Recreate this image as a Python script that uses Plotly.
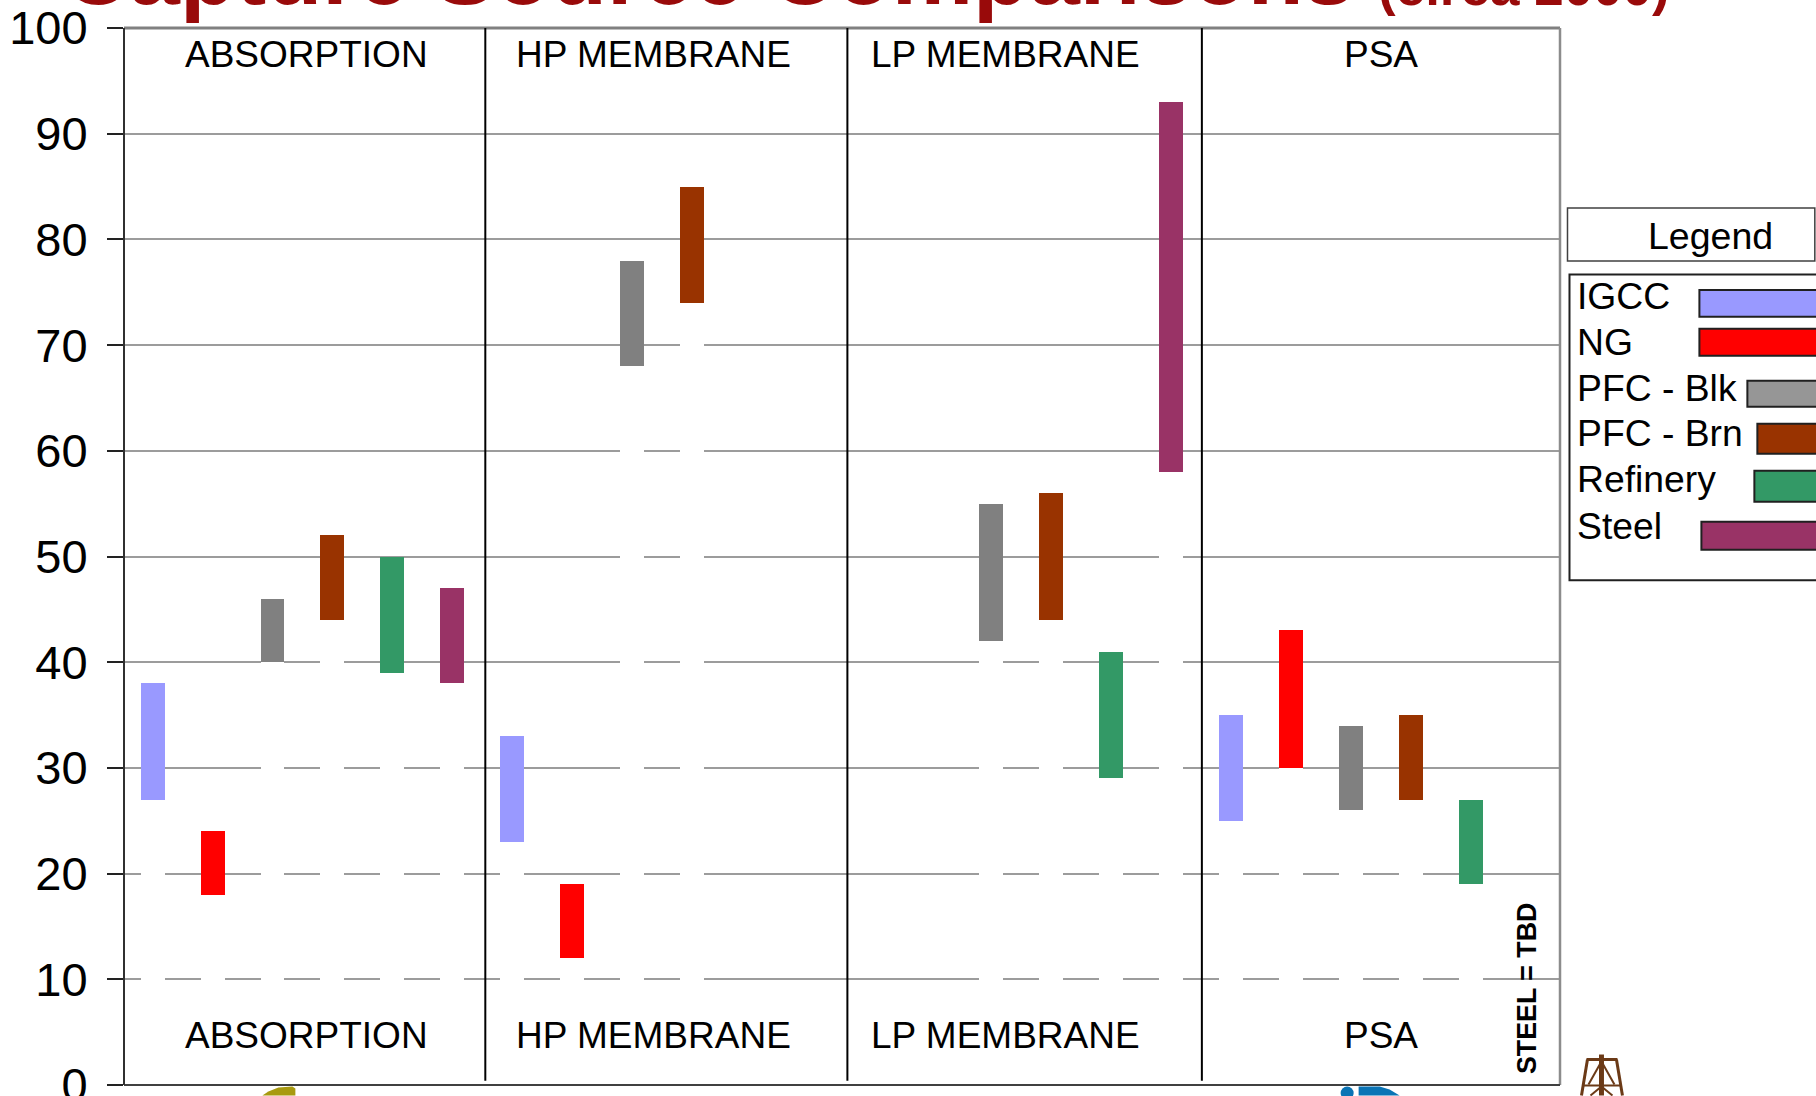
import plotly.graph_objects as go

W, H = 1816, 1096
PLOT_L, PLOT_R, PLOT_T, PLOT_B = 123.5, 1560.5, 28, 1085.5

TICK_VALUES = list(range(0, 101, 10))

# slot positions and low/high range for every source
igcc_slots = [0, 6, 18]
igcc_low = [27, 23, 25]
igcc_high = [38, 33, 35]

ng_slots = [1, 7, 19]
ng_low = [18, 12, 30]
ng_high = [24, 19, 43]

blk_slots = [2, 8, 14, 20]
blk_low = [40, 68, 42, 26]
blk_high = [46, 78, 55, 34]

brn_slots = [3, 9, 15, 21]
brn_low = [44, 74, 44, 27]
brn_high = [52, 85, 56, 35]

ref_slots = [4, 16, 22]
ref_low = [39, 29, 19]
ref_high = [50, 41, 27]

steel_slots = [5, 17]
steel_low = [38, 58]
steel_high = [47, 93]

series = [
    ("IGCC", igcc_slots, igcc_low, igcc_high, "#9999FF"),
    ("NG", ng_slots, ng_low, ng_high, "#FF0000"),
    ("PFC - Blk", blk_slots, blk_low, blk_high, "#808080"),
    ("PFC - Brn", brn_slots, brn_low, brn_high, "#993300"),
    ("Refinery", ref_slots, ref_low, ref_high, "#339966"),
    ("Steel", steel_slots, steel_low, steel_high, "#993366"),
]

technologies = ["ABSORPTION", "HP MEMBRANE", "LP MEMBRANE", "PSA"]
tech_centers = [306, 653, 1006, 1381]
dividers = [5.552, 11.596, 17.513]

legend_rows = [
    ("IGCC", "#9999FF", 1700, 290, 317, 309),
    ("NG", "#FF0000", 1700, 329, 356, 355.5),
    ("PFC - Blk", "#969696", 1748, 381, 407, 401),
    ("PFC - Brn", "#993300", 1758, 424, 454, 446),
    ("Refinery", "#339966", 1755, 471, 502, 492.5),
    ("Steel", "#993366", 1702, 522, 550, 539.5),
]

FONT = "Liberation Sans, Arial, sans-serif"


def pw(x):
    return (x - PLOT_L) / (PLOT_R - PLOT_L)


def ph(y):
    return 1 - (y - PLOT_T) / (PLOT_B - PLOT_T)


def page_path(points, close=True):
    body = " L ".join(f"{pw(x):.5f},{ph(y):.5f}" for x, y in points)
    return f"M {body}" + (" Z" if close else "")


fig = go.Figure()

# each range floats on a white base that hides the gridlines beneath it
for name, slots, low, high, color in series:
    fig.add_bar(
        x=slots, y=low, width=0.4, marker=dict(color="white", line_width=0),
        showlegend=False, hoverinfo="skip",
    )
for name, slots, low, high, color in series:
    fig.add_bar(
        x=slots, y=[h - l for l, h in zip(low, high)], base=low, width=0.4, name=name,
        marker=dict(color=color, line_width=0), showlegend=False,
    )

shapes = []
annotations = []

# frame of the plotting area
shapes.append(dict(type="line", xref="paper", yref="paper", x0=0, x1=1, y0=1, y1=1,
                   line=dict(color="#808080", width=3)))
shapes.append(dict(type="line", xref="paper", yref="paper", x0=1, x1=1, y0=0, y1=1,
                   line=dict(color="#8C8C8C", width=2.5)))
shapes.append(dict(type="line", xref="paper", yref="paper", x0=0, x1=1, y0=0, y1=0,
                   line=dict(color="#404040", width=2)))
shapes.append(dict(type="line", xref="paper", yref="paper", x0=0, x1=0, y0=0, y1=1,
                   line=dict(color="#303030", width=2)))

# technology separators
for d in dividers:
    shapes.append(dict(type="line", xref="x", yref="y", x0=d, x1=d, y0=0.4, y1=100,
                       line=dict(color="#000000", width=2)))

# technology headings, repeated above and below the ranges
for label, cx in zip(technologies, tech_centers):
    for cy in (55, 1036):
        annotations.append(dict(
            text=label, xref="paper", yref="paper", x=pw(cx), y=ph(cy),
            xanchor="center", yanchor="middle", showarrow=False,
            font=dict(family=FONT, size=37, color="black"),
        ))

annotations.append(dict(
    text="<b>STEEL = TBD</b>", xref="paper", yref="paper", x=pw(1527), y=ph(989),
    xanchor="center", yanchor="middle", textangle=-90, showarrow=False,
    font=dict(family=FONT, size=26.8, color="black"),
))

# heading, running off the top of the page
annotations.append(dict(
    text="<b>Capture Source Comparisons</b>", xref="paper", yref="paper",
    x=pw(60), y=ph(-28.5), xanchor="left", yanchor="middle", showarrow=False,
    font=dict(family=FONT, size=91.5, color="#990A0A"),
))
annotations.append(dict(
    text="<b>(circa 2000)</b>", xref="paper", yref="paper",
    x=pw(1376), y=ph(-14), xanchor="left", yanchor="middle", showarrow=False,
    font=dict(family=FONT, size=53, color="#990A0A"),
))

# hand-built key beside the plot
shapes.append(dict(type="rect", xref="paper", yref="paper",
                   x0=pw(1568), x1=pw(1815.5), y0=ph(261), y1=ph(208),
                   line=dict(color="#404040", width=1.5), fillcolor="white"))
annotations.append(dict(
    text="Legend", xref="paper", yref="paper", x=pw(1711), y=ph(236),
    xanchor="center", yanchor="middle", showarrow=False,
    font=dict(family=FONT, size=37.5, color="black"),
))
shapes.append(dict(type="rect", xref="paper", yref="paper",
                   x0=pw(1570), x1=pw(1830), y0=ph(580.5), y1=ph(274.5),
                   line=dict(color="#202020", width=2), fillcolor="white"))
for label, color, x0, top, bottom, baseline in legend_rows:
    shapes.append(dict(type="rect", xref="paper", yref="paper",
                       x0=pw(x0), x1=pw(1830), y0=ph(bottom), y1=ph(top),
                       line=dict(color="#202020", width=2), fillcolor=color))
    annotations.append(dict(
        text=label, xref="paper", yref="paper", x=pw(1576), y=ph(baseline - 13),
        xanchor="left", yanchor="middle", showarrow=False,
        font=dict(family=FONT, size=37.3, color="black"),
    ))

# tops of the sponsor emblems along the bottom edge
shapes.append(dict(type="path", xref="paper", yref="paper", fillcolor="#A89A10", line_width=0,
                   path=page_path([(262, 1096), (268, 1092), (278, 1088), (292, 1087),
                                   (295, 1089), (295, 1096)])))
shapes.append(dict(type="circle", xref="paper", yref="paper", fillcolor="#0A74B5", line_width=0,
                   x0=pw(1341), x1=pw(1354), y0=ph(1100), y1=ph(1087)))
shapes.append(dict(type="path", xref="paper", yref="paper", fillcolor="#0A74B5", line_width=0,
                   path=page_path([(1359, 1096), (1359, 1087), (1380, 1087), (1390, 1090),
                                   (1400, 1096)])))
rig_color = "#6B3A17"
rig_lines = [
    ((1602, 1055), (1602, 1096), 5),
    ((1587, 1060), (1618, 1060), 3),
    ((1588, 1060), (1582, 1096), 3),
    ((1617, 1060), (1623, 1096), 3),
    ((1584, 1086), (1621, 1086), 2),
    ((1589, 1085), (1602, 1062), 2),
    ((1615, 1085), (1602, 1062), 2),
    ((1602, 1087), (1591, 1096), 2),
    ((1602, 1087), (1613, 1096), 2),
]
for (xa, ya), (xb, yb), lw in rig_lines:
    shapes.append(dict(type="line", xref="paper", yref="paper",
                       x0=pw(xa), y0=ph(ya), x1=pw(xb), y1=ph(yb),
                       line=dict(color=rig_color, width=lw)))

fig.update_layout(
    width=W, height=H,
    autosize=False,
    barmode="overlay",
    bargap=0,
    paper_bgcolor="white",
    plot_bgcolor="white",
    margin=dict(l=PLOT_L, r=W - PLOT_R, t=PLOT_T, b=H - PLOT_B, pad=0, autoexpand=False),
    shapes=shapes,
    annotations=annotations,
    showlegend=False,
    xaxis=dict(
        range=[-0.479, 23.491], tickvals=[], showgrid=False, zeroline=False,
        showline=False, fixedrange=True, automargin=False,
    ),
    yaxis=dict(
        range=[0, 100], tickvals=TICK_VALUES, ticks="outside", ticklen=16, tickwidth=1.5,
        tickcolor="#222222", showgrid=True, gridcolor="#9C9C9C", gridwidth=1.5,
        zeroline=False, showline=False, ticklabelstandoff=10, fixedrange=True, automargin=False,
        ticklabeloverflow="allow",
        tickfont=dict(family=FONT, size=47, color="black"),
    ),
)

fig.write_html("out.html", config={"displayModeBar": False})
